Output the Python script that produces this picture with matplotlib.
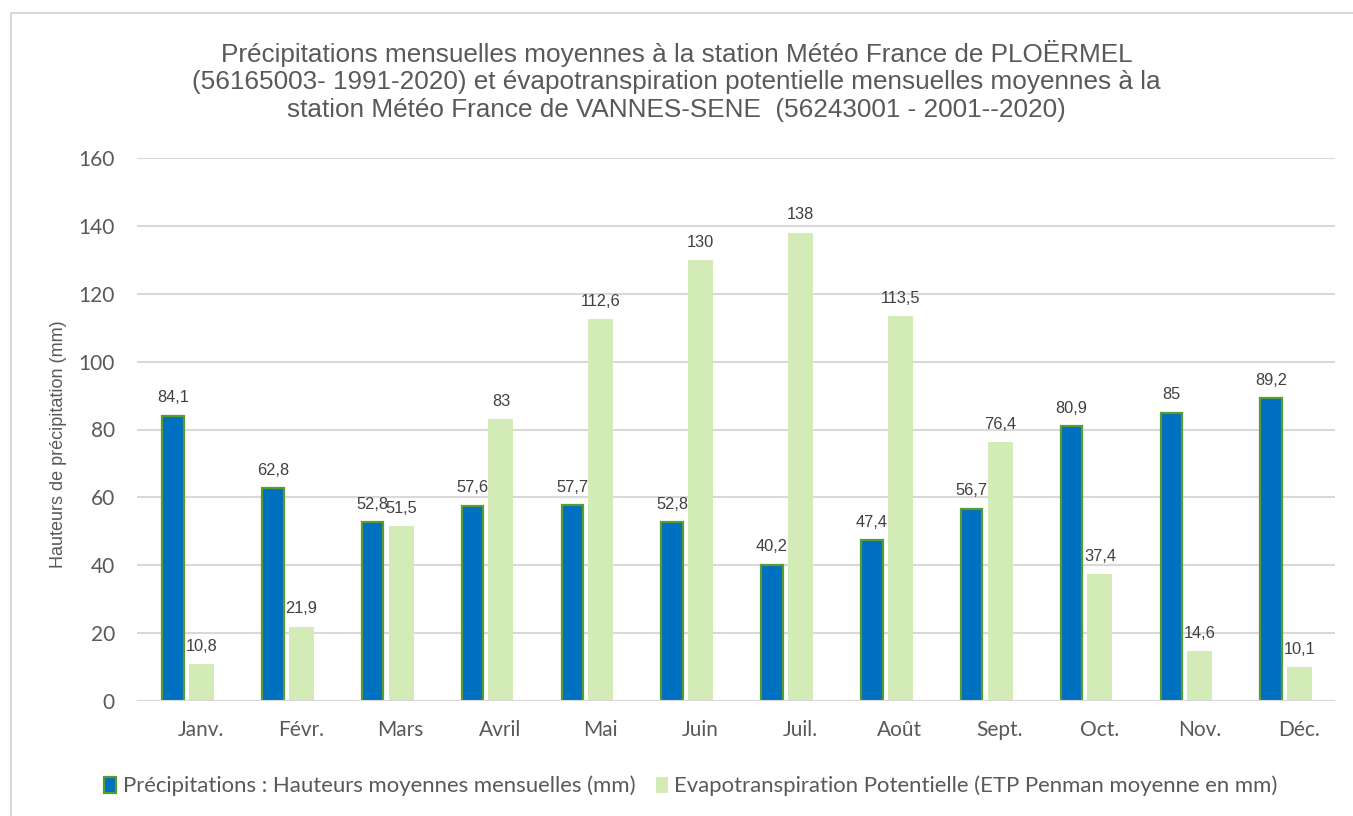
import matplotlib
matplotlib.use("Agg")
import matplotlib.pyplot as plt
from matplotlib.patches import Rectangle
import matplotlib.transforms as mtransforms
import numpy as np

months = ["Janv.", "Févr.", "Mars", "Avril", "Mai", "Juin", "Juil.", "Août", "Sept.", "Oct.", "Nov.", "Déc."]
precip = [84.1, 62.8, 52.8, 57.6, 57.7, 52.8, 40.2, 47.4, 56.7, 80.9, 85, 89.2]
etp = [10.8, 21.9, 51.5, 83, 112.6, 130, 138, 113.5, 76.4, 37.4, 14.6, 10.1]
yticks = [0, 20, 40, 60, 80, 100, 120, 140, 160]

title = ("Précipitations mensuelles moyennes à la station Météo France de PLOËRMEL\n"
         "(56165003- 1991-2020) et évapotranspiration potentielle mensuelles moyennes à la\n"
         "station Météo France de VANNES-SENE  (56243001 - 2001--2020)")
leg1 = "Précipitations : Hauteurs moyennes mensuelles (mm)"
leg2 = "Evapotranspiration Potentielle (ETP Penman moyenne en mm)"

plt.rcParams['font.family'] = ['Liberation Sans', 'DejaVu Sans']
cal = ['Lato', 'DejaVu Sans']
gray = '#595959'

W, H = 1353, 816
fig = plt.figure(figsize=(W / 100, H / 100), dpi=100)
fig.patches.append(Rectangle((11 / W, -0.1), 1.2, 1 - 13 / H + 0.1, transform=fig.transFigure,
                             fill=False, edgecolor='#d9d9d9', linewidth=1.5))
ax = fig.add_axes([137 / W, 1 - 701 / H, (1335 - 137) / W, (701 - 158) / H])

x = np.arange(len(months))
blue = '#0070C0'
edge = '#5B9A2E'
light = '#D3EBB7'
ob, og = -0.14, 0.145
ax.bar(x + ob, precip, width=0.215, color=blue, edgecolor=edge, linewidth=1.6, zorder=3)
ax.bar(x + og, etp, width=0.25, color=light, edgecolor='none', zorder=3)

for xi, v in zip(x, precip):
    ax.text(xi + ob, v + 3.0, f"{v:g}".replace('.', ','), ha='center', va='bottom', fontsize=11.8, color='#404040')
for xi, v in zip(x, etp):
    ax.text(xi + og, v + 3.0, f"{v:g}".replace('.', ','), ha='center', va='bottom', fontsize=11.8, color='#404040')

ax.set_xlim(-0.5, 11.5)
ax.set_ylim(0, 160)
ax.set_yticks(yticks)
ax.set_xticks(x)
ax.set_xticklabels(months)
ax.tick_params(axis='both', length=0, labelsize=15, colors=gray)
ax.tick_params(axis='y', pad=16)
ax.tick_params(axis='x', pad=14)
for lab in ax.get_xticklabels() + ax.get_yticklabels():
    lab.set_family(cal)
offset = mtransforms.ScaledTranslation(14 / 100, 0, fig.dpi_scale_trans)
for lab in ax.get_xticklabels():
    lab.set_transform(lab.get_transform() + offset)
ax.yaxis.grid(True, color='#d9d9d9', linewidth=1.5, zorder=0)
for s in ax.spines.values():
    s.set_visible(False)
ax.axhline(0, color='#d9d9d9', linewidth=1.5, zorder=4)
ax.set_ylabel("Hauteurs de précipitation (mm)", fontsize=13, color=gray)
ax.yaxis.set_label_coords(-(137 - 67) / (1335 - 137), (701 - 444) / (701 - 158))

fig.text(0.5, 1 - 81 / H, title, ha='center', va='center', fontsize=18.8, color=gray, linespacing=1.2)

handles = [Rectangle((0, 0), 1, 1, facecolor=blue, edgecolor=edge, linewidth=1.6),
           Rectangle((0, 0), 1, 1, facecolor=light, edgecolor='none')]
fig.legend(handles, [leg1, leg2], loc='center', bbox_to_anchor=(691 / W, 1 - 786 / H), ncol=2,
           frameon=False, handlelength=0.55, handleheight=0.75, handletextpad=0.3,
           columnspacing=0.9, labelcolor=gray,
           prop={'family': cal, 'size': 15.9})

fig.savefig("out.png", dpi=100)
